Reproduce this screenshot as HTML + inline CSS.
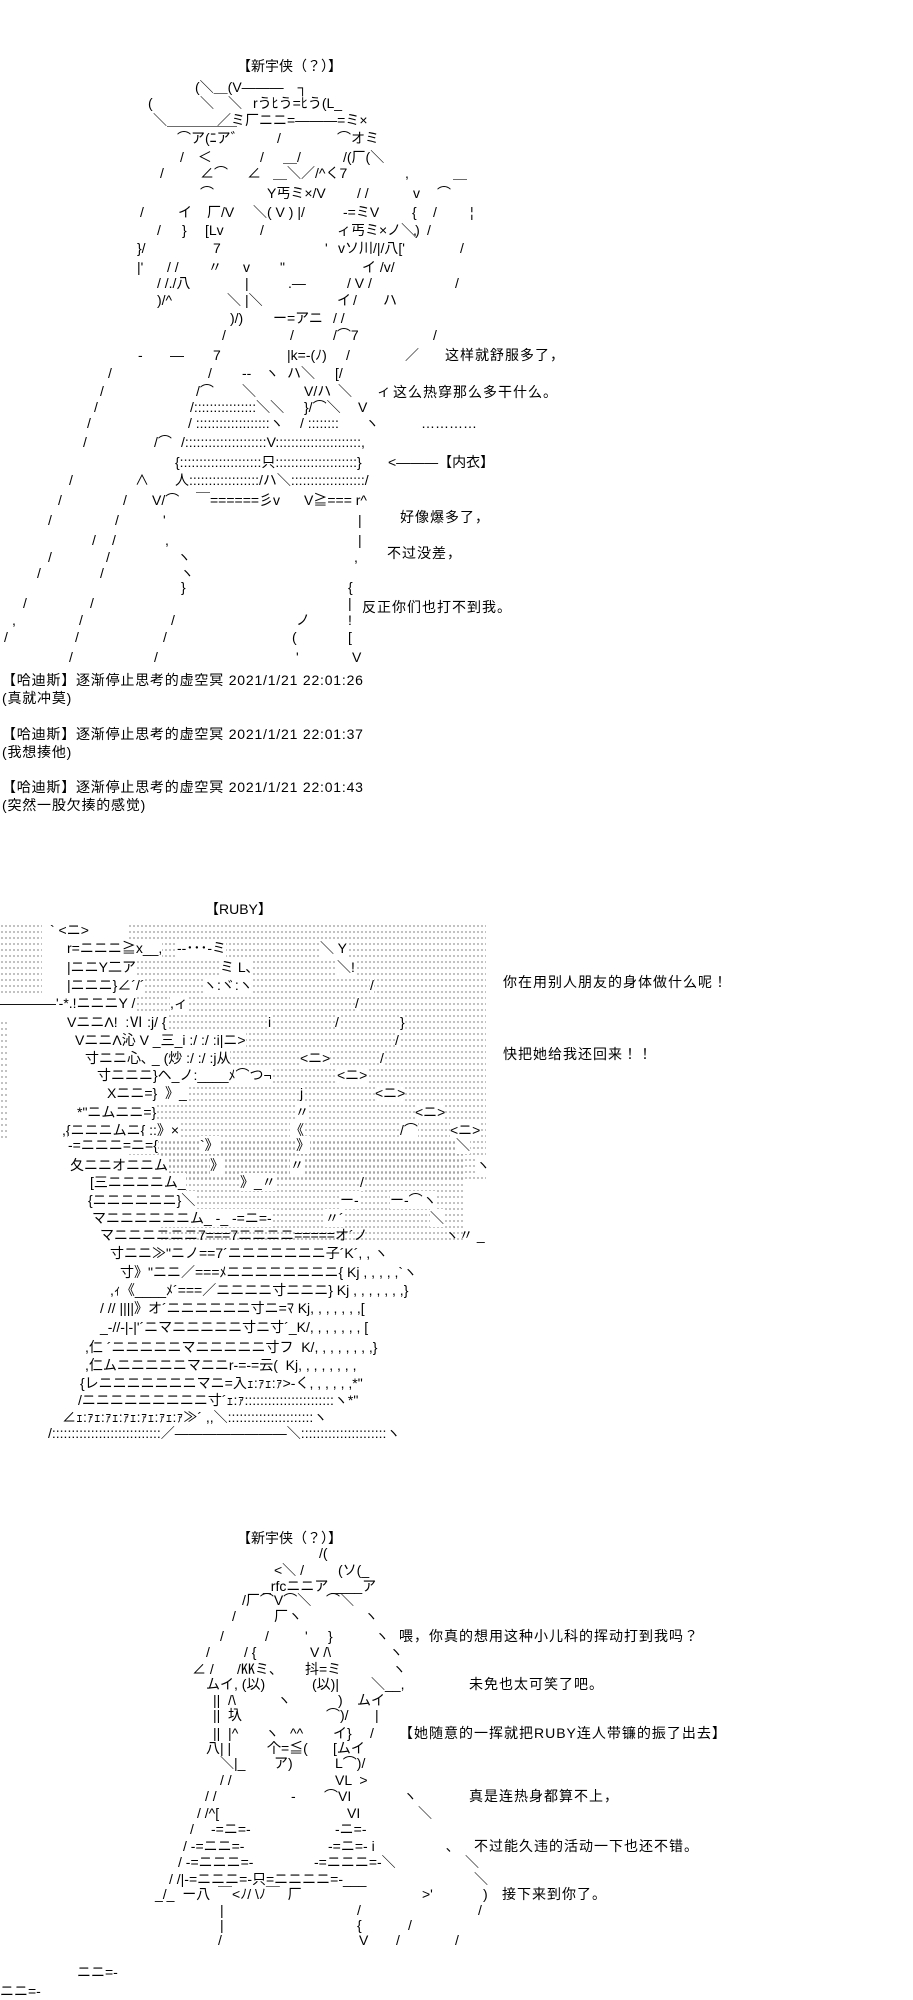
<!DOCTYPE html>
<html><head><meta charset="utf-8">
<style>
html,body{margin:0;padding:0;background:#fff;}
body{width:913px;height:2000px;position:relative;overflow:hidden;font:14px/18px "Liberation Sans","Noto Sans CJK JP",sans-serif;color:#000;}
s{position:absolute;white-space:pre;text-decoration:none;}
.w{background:#fff;}
.d{position:absolute;background-image:radial-gradient(circle,#999 0.7px,transparent 1px);background-size:4px 6px;}
.l{letter-spacing:1px;}
.c{letter-spacing:0.8px;}
</style></head><body>

<!-- Panel 1 -->
<s style="left:237px;top:57px">【新宇侠（？）】</s>
<s style="left:195px;top:78px">(＼＿(V―――　┐</s>
<s style="left:148px;top:94px">(</s><s style="left:200px;top:94px">＼　＼</s><s style="left:253px;top:94px">rうﾋう=ﾋう(L_</s>
<s style="left:153px;top:111px">＼＿＿＿＿＿</s><s style="left:217px;top:111px">／ミ厂ニニ=―――=ミ×</s>
<s style="left:177px;top:129px">⌒ア(ﾆア゛</s><s style="left:277px;top:129px">/</s><s style="left:337px;top:129px">⌒オミ</s>
<s style="left:180px;top:148px">/　＜</s><s style="left:260px;top:148px">/</s><s style="left:283px;top:148px">＿/</s><s style="left:343px;top:148px">/(厂(＼</s>
<s style="left:160px;top:164px">/</s><s style="left:200px;top:164px">∠⌒</s><s style="left:247px;top:164px">∠</s><s style="left:273px;top:164px">＿＼／/^く7</s><s style="left:405px;top:164px">,</s><s style="left:453px;top:164px">＿</s>
<s style="left:200px;top:184px">⌒</s><s style="left:267px;top:184px">Y丐ミ×/V</s><s style="left:357px;top:184px">/ /</s><s style="left:413px;top:184px">v</s><s style="left:437px;top:184px">⌒</s>
<s style="left:140px;top:203px">/</s><s style="left:178px;top:203px">イ</s><s style="left:207px;top:203px">厂/V</s><s style="left:253px;top:203px">＼( V ) |/</s><s style="left:343px;top:203px">-=ミV</s><s style="left:412px;top:203px">{</s><s style="left:433px;top:203px">/</s><s style="left:470px;top:203px">¦</s>
<s style="left:157px;top:221px">/</s><s style="left:182px;top:221px">}</s><s style="left:205px;top:221px">[Lv</s><s style="left:260px;top:221px">/</s><s style="left:337px;top:221px">ィ丐ミ×ノ＼)</s><s style="left:413px;top:221px">,</s><s style="left:427px;top:221px">/</s>
<s style="left:137px;top:239px">}/</s><s style="left:213px;top:239px">7</s><s style="left:325px;top:239px">'</s><s style="left:338px;top:239px">vソ川/|/八['</s><s style="left:460px;top:239px">/</s>
<s style="left:137px;top:258px">|'</s><s style="left:167px;top:258px">/ /</s><s style="left:208px;top:258px">〃</s><s style="left:243px;top:258px">v</s><s style="left:280px;top:258px">"</s><s style="left:362px;top:258px">イ /v/</s>
<s style="left:157px;top:274px">/ /./八</s><s style="left:245px;top:274px">|</s><s style="left:288px;top:274px">.―</s><s style="left:347px;top:274px">/ V /</s><s style="left:455px;top:274px">/</s>
<s style="left:157px;top:291px">)/^</s><s style="left:227px;top:291px">＼</s><s style="left:245px;top:291px">|＼</s><s style="left:337px;top:291px">イ</s><s style="left:353px;top:291px">/</s><s style="left:383px;top:291px">ハ</s>
<s style="left:230px;top:309px">)/)</s><s style="left:273px;top:309px">ー=アニ</s><s style="left:333px;top:309px">/ /</s>
<s style="left:222px;top:326px">/</s><s style="left:290px;top:326px">/</s><s style="left:333px;top:326px">/⌒7</s><s style="left:433px;top:326px">/</s>
<s style="left:138px;top:346px">-</s><s style="left:170px;top:346px">―</s><s style="left:213px;top:346px">7</s><s style="left:287px;top:346px">|k=-(ﾉ)</s><s style="left:346px;top:346px">/</s><s style="left:405px;top:346px">／</s>
<s class="l" style="left:445px;top:346px">这样就舒服多了，</s>
<s style="left:108px;top:364px">/</s><s style="left:208px;top:364px">/</s><s style="left:242px;top:364px">--</s><s style="left:265px;top:364px">ヽ</s><s style="left:287px;top:364px">ハ＼</s><s style="left:335px;top:364px">[/</s>
<s style="left:100px;top:382px">/</s><s style="left:196px;top:382px">/⌒</s><s style="left:242px;top:382px">＼</s><s style="left:304px;top:382px">V/ハ</s><s style="left:338px;top:382px">＼</s><s style="left:377px;top:382px">ィ</s>
<s class="l" style="left:393px;top:383px">这么热穿那么多干什么。</s>
<s style="left:94px;top:398px">/</s><s style="left:190px;top:398px">/::::::::::::::::＼＼</s><s style="left:304px;top:398px">}/⌒＼</s><s style="left:358px;top:398px">V</s>
<s style="left:87px;top:414px">/</s><s style="left:188px;top:414px">/ :::::::::::::::::::ヽ</s><s style="left:300px;top:414px">/ ::::::::</s><s style="left:365px;top:414px">ヽ</s>
<s style="left:421px;top:414px">…………</s>
<s style="left:83px;top:433px">/</s><s style="left:154px;top:433px">/⌒</s><s style="left:181px;top:433px">/:::::::::::::::::::::V::::::::::::::::::::::,</s>
<s style="left:175px;top:453px">{:::::::::::::::::::::只:::::::::::::::::::::}</s>
<s style="left:388px;top:453px">&lt;―――【内衣】</s>
<s style="left:69px;top:471px">/</s><s style="left:135px;top:471px">∧</s><s style="left:175px;top:471px">人::::::::::::::::::/ハ＼:::::::::::::::::::/</s>
<s style="left:58px;top:491px">/</s><s style="left:123px;top:491px">/</s><s style="left:152px;top:491px">V/⌒</s><s style="left:196px;top:491px">￣======彡v</s><s style="left:304px;top:491px">V≧=== r^</s>
<s class="l" style="left:400px;top:508px">好像爆多了，</s>
<s style="left:48px;top:511px">/</s><s style="left:115px;top:511px">/</s><s style="left:163px;top:511px">'</s><s style="left:358px;top:511px">|</s>
<s style="left:92px;top:531px">/</s><s style="left:112px;top:531px">/</s><s style="left:165px;top:531px">,</s><s style="left:358px;top:531px">|</s>
<s class="l" style="left:387px;top:544px">不过没差，</s>
<s style="left:48px;top:548px">/</s><s style="left:106px;top:548px">/</s><s style="left:177px;top:548px">ヽ</s><s style="left:354px;top:548px">,</s>
<s style="left:37px;top:564px">/</s><s style="left:100px;top:564px">/</s><s style="left:180px;top:564px">ヽ</s>
<s style="left:181px;top:578px">}</s><s style="left:348px;top:578px">{</s>
<s style="left:23px;top:594px">/</s><s style="left:90px;top:594px">/</s><s style="left:348px;top:594px">|</s>
<s class="l" style="left:362px;top:598px">反正你们也打不到我。</s>
<s style="left:12px;top:611px">,</s><s style="left:79px;top:611px">/</s><s style="left:171px;top:611px">/</s><s style="left:296px;top:611px">ノ</s><s style="left:348px;top:611px">!</s>
<s style="left:4px;top:628px">/</s><s style="left:75px;top:628px">/</s><s style="left:163px;top:628px">/</s><s style="left:292px;top:628px">(</s><s style="left:348px;top:628px">[</s>
<s style="left:69px;top:648px">/</s><s style="left:154px;top:648px">/</s><s style="left:296px;top:648px">'</s><s style="left:352px;top:648px">V</s>

<!-- comments -->
<s class="c" style="left:2px;top:671px">【哈迪斯】逐渐停止思考的虚空冥 2021/1/21 22:01:26</s>
<s class="c" style="left:2px;top:689px">(真就冲莫)</s>
<s class="c" style="left:2px;top:725px">【哈迪斯】逐渐停止思考的虚空冥 2021/1/21 22:01:37</s>
<s class="c" style="left:2px;top:743px">(我想揍他)</s>
<s class="c" style="left:2px;top:778px">【哈迪斯】逐渐停止思考的虚空冥 2021/1/21 22:01:43</s>
<s class="c" style="left:2px;top:796px">(突然一股欠揍的感觉)</s>

<!-- Panel 2 RUBY -->
<s style="left:205px;top:900px">【RUBY】</s>
<div class="d" style="left:0;top:923px;width:42px;height:90px"></div>
<div class="d" style="left:128px;top:923px;width:358px;height:260px"></div>
<div class="d" style="left:160px;top:1140px;width:305px;height:100px"></div>
<div class="d" style="left:0;top:1020px;width:8px;height:120px"></div>
<s class="w" style="left:50px;top:921px">` &lt;ニ&gt;</s>
<s class="w" style="left:67px;top:939px">r=ニニニ≧x__,</s><s class="w" style="left:177px;top:939px">-‐･･･-ミ</s><s class="w" style="left:320px;top:939px">＼ Y</s>
<s class="w" style="left:67px;top:958px">|ニニY二ア</s><s class="w" style="left:220px;top:958px">ミ L､</s><s class="w" style="left:337px;top:958px">＼!</s>
<s class="w" style="left:67px;top:976px">|ニニニ}∠´/´</s><s class="w" style="left:203px;top:976px">ヽ:ヾ:ヽ</s><s class="w" style="left:370px;top:976px">/</s>
<s class="w" style="left:0px;top:994px">――――'‐*.!ニニニY /</s><s class="w" style="left:170px;top:994px">,ィ</s><s class="w" style="left:355px;top:994px">/</s>
<s class="w" style="left:67px;top:1013px">VニニΛ!  :Ⅵ :j/ {</s><s class="w" style="left:268px;top:1013px">i</s><s class="w" style="left:335px;top:1013px">/</s><s class="w" style="left:400px;top:1013px">}</s>
<s class="w" style="left:75px;top:1031px">VニニΛ沁 V _三_i :/ :/ :i|ニ&gt;</s><s class="w" style="left:395px;top:1031px">/</s>
<s class="w" style="left:85px;top:1049px">寸ニニ心､ _ (炒 :/ :/ :j从</s><s class="w" style="left:300px;top:1049px">&lt;ニ&gt;</s><s class="w" style="left:380px;top:1049px">/</s>
<s class="w" style="left:97px;top:1066px">寸ニニニ}ヘ_ノ:____ﾒ⌒つ¬</s><s class="w" style="left:337px;top:1066px">&lt;ニ&gt;</s>
<s class="w" style="left:107px;top:1084px">Xニニ=}  》_</s><s class="w" style="left:300px;top:1084px">j</s><s class="w" style="left:375px;top:1084px">&lt;ニ&gt;</s>
<s class="w" style="left:77px;top:1103px">*"ニムニニ=}</s><s class="w" style="left:295px;top:1103px">〃</s><s class="w" style="left:415px;top:1103px">&lt;ニ&gt;</s>
<s class="w" style="left:62px;top:1121px">,{ニニニムニ{ ::》×</s><s class="w" style="left:290px;top:1121px">《</s><s class="w" style="left:400px;top:1121px">/⌒</s><s class="w" style="left:450px;top:1121px">&lt;ニ&gt;</s>
<s class="w" style="left:68px;top:1136px">-=ニニニ=ニ={</s><s class="w" style="left:200px;top:1136px">`》</s><s class="w" style="left:296px;top:1136px">》</s><s class="w" style="left:456px;top:1136px">＼</s>
<s class="w" style="left:70px;top:1156px">夂ニニオニニム</s><s class="w" style="left:210px;top:1156px">》</s><s class="w" style="left:290px;top:1156px">〃</s><s class="w" style="left:476px;top:1156px">ヽ</s>
<s class="w" style="left:90px;top:1173px">[三ニニニニム_</s><s class="w" style="left:240px;top:1173px">》_〃</s><s class="w" style="left:360px;top:1173px">/</s>
<s class="w" style="left:88px;top:1191px">{ニニニニニニ}＼</s><s class="w" style="left:340px;top:1191px">ー-</s><s class="w" style="left:390px;top:1191px">ー‐⌒ヽ</s>
<s class="w" style="left:92px;top:1209px">マニニニニニニム_ ‐_ -=ニ=-</s><s class="w" style="left:325px;top:1209px">〃´</s><s class="w" style="left:430px;top:1209px">＼</s>
<s style="left:100px;top:1226px">マニニニニニニ7===7ニニニニ=====オ´ノ</s><s style="left:445px;top:1226px">ヽ〃 _</s>
<s style="left:110px;top:1244px">寸ニニ≫"ニノ==7´ニニニニニニニ子´K´, , ヽ</s>
<s style="left:120px;top:1263px">寸》"ニニ／===ﾒニニニニニニニニ{ Kj , , , , ,`ヽ</s>
<s style="left:110px;top:1281px">,ｨ《____ﾒ´===／ニニニニ寸ニニニ} Kj , , , , , , ,}</s>
<s style="left:100px;top:1299px">/ // ||||》オ´ニニニニニニ寸ニ=ﾏ Kj, , , , , , ,[</s>
<s style="left:100px;top:1318px">_-//-|-|'´ニマニニニニニ寸ニ寸´_K/, , , , , , , [</s>
<s style="left:85px;top:1338px">,仁 ´ニニニニニマニニニニニ寸フ  K/, , , , , , , ,}</s>
<s style="left:85px;top:1356px">,仁ムニニニニニマニニr-=-=云(  Kj, , , , , , , ,</s>
<s style="left:80px;top:1374px">{レニニニニニニニマニ=入ｪ:ｧｪ:ｧ&gt;-く, , , , , ,*"</s>
<s style="left:78px;top:1391px">/ニニニニニニニニニ寸´ｪ:ｧ:::::::::::::::::::::::ヽ*"</s>
<s style="left:62px;top:1408px">∠ｪ:ｧｪ:ｧｪ:ｧｪ:ｧｪ:ｧｪ:ｧ≫´ ,,＼::::::::::::::::::::::ヽ</s>
<s style="left:48px;top:1424px">/::::::::::::::::::::::::::::／――――――――＼::::::::::::::::::::::ヽ</s>
<s class="l" style="left:503px;top:973px">你在用别人朋友的身体做什么呢！</s>
<s class="l" style="left:503px;top:1045px">快把她给我还回来！！</s>

<!-- Panel 3 -->
<s style="left:237px;top:1529px">【新宇侠（？）】</s>
<s style="left:319px;top:1544px">/(</s>
<s style="left:274px;top:1561px">&lt;＼ /</s><s style="left:338px;top:1561px">(ソ(_</s>
<s style="left:263px;top:1577px">_rfcニニア</s><s style="left:331px;top:1577px">____ア</s>
<s style="left:242px;top:1591px">/厂⌒V⌒＼</s><s style="left:326px;top:1591px">⌒＼</s>
<s style="left:232px;top:1607px">/</s><s style="left:274px;top:1607px">厂ヽ</s><s style="left:364px;top:1607px">ヽ</s>
<s style="left:220px;top:1627px">/</s><s style="left:265px;top:1627px">/</s><s style="left:305px;top:1627px">'</s><s style="left:328px;top:1627px">}</s><s style="left:375px;top:1627px">ヽ</s>
<s class="l" style="left:399px;top:1627px">喂，你真的想用这种小儿科的挥动打到我吗？</s>
<s style="left:206px;top:1643px">/</s><s style="left:244px;top:1643px">/ {</s><s style="left:310px;top:1643px">V /\</s><s style="left:389px;top:1643px">ヽ</s>
<s style="left:192px;top:1660px">∠ /</s><s style="left:237px;top:1660px">/㏍ミ、</s><s style="left:305px;top:1660px">抖=ミ</s><s style="left:392px;top:1660px">ヽ</s>
<s style="left:206px;top:1675px">ムイ, (以)</s><s style="left:312px;top:1675px">(以)|</s><s style="left:371px;top:1675px">＼__,</s>
<s class="l" style="left:469px;top:1675px">未免也太可笑了吧。</s>
<s style="left:213px;top:1691px">||  /\</s><s style="left:277px;top:1691px">ヽ</s><s style="left:338px;top:1691px">)</s><s style="left:357px;top:1691px">ムイ</s>
<s style="left:213px;top:1706px">||  圦</s><s style="left:326px;top:1706px">⌒)/</s><s style="left:375px;top:1706px">|</s>
<s style="left:213px;top:1724px">||  |^</s><s style="left:265px;top:1724px">ヽ</s><s style="left:290px;top:1724px">^^</s><s style="left:333px;top:1724px">イ}</s><s style="left:370px;top:1724px">/</s>
<s class="l" style="left:399px;top:1724px">【她随意的一挥就把RUBY连人带镰的振了出去】</s>
<s style="left:206px;top:1739px">八| |</s><s style="left:267px;top:1739px">个=≦(</s><s style="left:333px;top:1739px">[ムイ</s>
<s style="left:220px;top:1754px">＼|_</s><s style="left:274px;top:1754px">ア)</s><s style="left:335px;top:1754px">L⌒)/</s>
<s style="left:220px;top:1771px">/ /</s><s style="left:335px;top:1771px">VL  &gt;</s>
<s style="left:205px;top:1787px">/ /</s><s style="left:291px;top:1787px">‐</s><s style="left:324px;top:1787px">⌒VI</s><s style="left:403px;top:1787px">ヽ</s>
<s class="l" style="left:469px;top:1787px">真是连热身都算不上，</s>
<s style="left:197px;top:1804px">/ /^[</s><s style="left:347px;top:1804px">VI</s><s style="left:418px;top:1804px">＼</s>
<s style="left:190px;top:1820px">/</s><s style="left:211px;top:1820px">-=ニ=-</s><s style="left:335px;top:1820px">-ニ=-</s>
<s style="left:183px;top:1837px">/ -=ニニ=-</s><s style="left:328px;top:1837px">-=ニ=- i</s><s style="left:446px;top:1837px">､</s>
<s class="l" style="left:474px;top:1837px">不过能久违的活动一下也还不错。</s>
<s style="left:178px;top:1853px">/ -=ニニニ=-</s><s style="left:314px;top:1853px">-=ニニニ=-＼</s><s style="left:465px;top:1853px">＼</s>
<s style="left:169px;top:1870px">/ /|-=ニニニ=-只=ニニニニ=-___</s><s style="left:474px;top:1870px">＼</s>
<s style="left:155px;top:1885px">_/_  ー八  ￣&lt;ﾉ/ \ﾉ￣  厂</s><s style="left:422px;top:1885px">&gt;'</s><s style="left:483px;top:1885px">)</s>
<s class="l" style="left:502px;top:1885px">接下来到你了。</s>
<s style="left:220px;top:1901px">|</s><s style="left:357px;top:1901px">/</s><s style="left:478px;top:1901px">/</s>
<s style="left:220px;top:1916px">|</s><s style="left:357px;top:1916px">{</s><s style="left:408px;top:1916px">/</s>
<s style="left:218px;top:1931px">/</s><s style="left:359px;top:1931px">V</s><s style="left:396px;top:1931px">/</s><s style="left:455px;top:1931px">/</s>
<s style="left:77px;top:1963px">ニニ=-</s>
<s style="left:0px;top:1982px">ニニ=-</s>
</body></html>
